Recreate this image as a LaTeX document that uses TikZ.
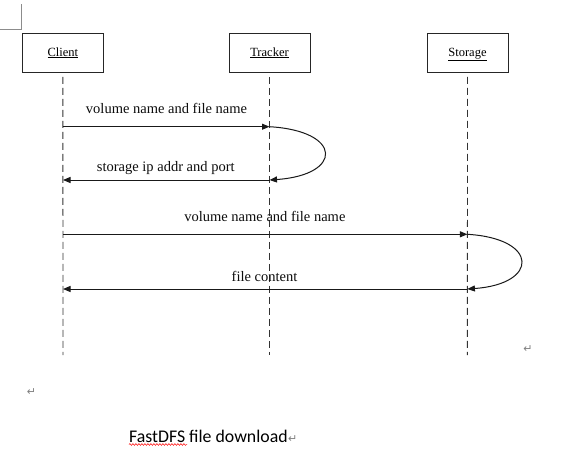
\documentclass[tikz,border=0pt]{standalone}
\usepackage{fontspec}
\setmainfont{Liberation Serif}
\newfontfamily\calfont{Carlito}
\newfontfamily\symfont{DejaVu Sans}
\usetikzlibrary{arrows.meta,decorations.pathmorphing}
\begin{document}
\begin{tikzpicture}[x=1pt,y=-1pt,
  actor/.style={draw=black!85,line width=1pt,minimum width=81pt,minimum height=39pt,inner sep=0pt,text height=9pt,text depth=3.5pt,font=\fontsize{12.5}{14}\selectfont},
  lifeline/.style={draw=black!80,line width=0.9pt,dash pattern=on 7pt off 4pt},
  msg/.style={draw=black!90,line width=1pt,-{Triangle[length=7.5pt,width=6pt]}},
  lbl/.style={font=\fontsize{14.5}{16}\selectfont,text=black!95,inner sep=0pt},
  pmark/.style={text=black!50,inner sep=0pt,font=\symfont\fontsize{11}{13}\selectfont}]
\useasboundingbox[fill=white] (0,0) rectangle (566,450);
% corner mark
\coordinate (c1) at (0,29.3);
\coordinate (c2) at (21.6,29.3);
\coordinate (c3) at (21.6,4);
\draw[black!45,line width=0.6pt] (c1) -- (c2) -- (c3);
% actors
\node[actor] (client) at (62.9,53.4) {\underline{Client}};
\node[actor] (tracker) at (269.5,53.4) {\underline{Tracker}};
\node[actor] (storage) at (467.5,53.4) {\underline{Storage}};
% lifeline ends
\coordinate (clientE) at (63,355);
\coordinate (trackerE) at (269.5,355);
\coordinate (storageE) at (467.4,355);
\draw[lifeline] ([yshift=-3.5pt]client.south) -- (clientE);
\draw[lifeline] ([yshift=-3.5pt]tracker.south) -- (trackerE);
\draw[lifeline] ([yshift=-3.5pt]storage.south) -- (storageE);
% message points
\coordinate (c127) at (63,126.7);
\coordinate (t127) at (269.5,126.7);
\coordinate (t180) at (269.5,180);
\coordinate (c180) at (63,180);
\coordinate (c234) at (63,234.3);
\coordinate (s234) at (467.4,234.3);
\coordinate (s289) at (467.4,289);
\coordinate (c289) at (63,289);
\draw[msg] (c127) -- (t127);
\draw[msg] (t127) .. controls (343,131) and (343,175) .. (t180);
\draw[msg] (t180) -- (c180);
\draw[msg] (c234) -- (s234);
\draw[msg] (s234) .. controls (539,238.5) and (539,284) .. (s289);
\draw[msg] (s289) -- (c289);
% labels
\node[lbl] (l1) at (166.5,108.3) {volume name and file name};
\node[lbl] (l2) at (165.8,168.3) {storage ip addr and port};
\node[lbl] (l3) at (264.9,216.7) {volume name and file name};
\node[lbl] (l4) at (264.5,276.7) {file content};
% paragraph marks
\node[pmark] (m1) at (528,349.3) {↵};
\node[pmark] (m2) at (31.4,392) {↵};
\node[inner sep=0pt,anchor=base west,font=\calfont\fontsize{17.8}{20}\selectfont] (cap) at (129,442) {FastDFS file download};
\node[pmark,anchor=base west] (m3) at (cap.base east) {↵};
\draw[red,line width=0.5pt,decorate,decoration={snake,amplitude=0.9pt,segment length=3pt}] ([yshift=-2.5pt]cap.base west) -- ++(58,0);
\end{tikzpicture}
\end{document}
